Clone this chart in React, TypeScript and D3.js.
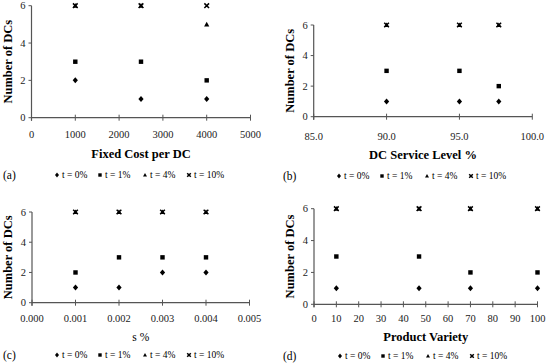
import React from 'react'
import * as d3 from 'd3';

const W = 546;
const H = 364;

// panel (a)
const fixedCost = [1000, 2500, 4000];
const fixedT0 = [2, 1, 1];
const fixedT1 = [3, 3, 2];
const fixedT4 = [6, 6, 5];
const fixedT10 = [6, 6, 6];

// panel (b)
const serviceLevel = [90, 95, 97.7];
const serviceT0 = [1, 1, 1];
const serviceT1 = [3, 3, 2];
const serviceT4 = [6, 6, 6];
const serviceT10 = [6, 6, 6];

// panel (c)
const sPct = [0.001, 0.002, 0.003, 0.004];
const sT0 = [1, 1, 2, 2];
const sT1 = [2, 3, 3, 3];
const sT4 = [6, 6, 6, 6];
const sT10 = [6, 6, 6, 6];

// panel (d)
const variety = [10, 47, 70, 100];
const varietyT0 = [1, 1, 1, 1];
const varietyT1 = [3, 3, 2, 2];
const varietyT4 = [6, 6, 6, 6];
const varietyT10 = [6, 6, 6, 6];

const seriesNames = ['t = 0%', 't = 1%', 't = 4%', 't = 10%'];
const yTicks = [0, 2, 4, 6];

const FONT = '"Liberation Serif", "Times New Roman", serif';

// marker glyphs, r is the half size
const Marker = ({ i, x, y, r = 2.6 }) => {
  if (i === 0) {
    return <path d={`M${x},${y - r - 0.4}L${x + r},${y}L${x},${y + r + 0.4}L${x - r},${y}Z`} fill="#000" />;
  }
  if (i === 1) {
    const s = r * 0.85;
    return <rect x={x - s} y={y - s} width={2 * s} height={2 * s} fill="#000" />;
  }
  if (i === 2) {
    return <path d={`M${x},${y - r}L${x + r},${y + r * 0.8}L${x - r},${y + r * 0.8}Z`} fill="#000" />;
  }
  const s = r * 0.9;
  return (
    <path d={`M${x - s},${y - s}L${x + s},${y + s}M${x - s},${y + s}L${x + s},${y - s}`}
      stroke="#000" strokeWidth={1.5} />
  );
};

const panels = [
  {
    letter: '(a)', title: 'Fixed Cost per DC', xs: fixedCost,
    series: [fixedT0, fixedT1, fixedT4, fixedT10],
    domain: [0, 5000], ticks: d3.range(0, 5001, 1000), fmt: d3.format('d'),
    x0: 31.5, x1: 250.5, yTop: 5.7, yBot: 117.7,
    tickY: 138, titleY: 158, legendY: 175, letterX: 3, legendX: 57,
  },
  {
    letter: '(b)', title: 'DC Service Level %', xs: serviceLevel,
    series: [serviceT0, serviceT1, serviceT4, serviceT10],
    domain: [85, 100], ticks: d3.range(85, 100.1, 5), fmt: d3.format('.1f'),
    x0: 313.7, x1: 532.3, yTop: 25, yBot: 116.7,
    tickY: 140, titleY: 159, legendY: 176, letterX: 283, legendX: 339,
  },
  {
    letter: '(c)', title: 's %', xs: sPct,
    series: [sT0, sT1, sT4, sT10],
    domain: [0, 0.005], ticks: d3.range(0, 0.00501, 0.001), fmt: d3.format('.3f'),
    x0: 32, x1: 249.5, yTop: 212, yBot: 302.7,
    tickY: 322, titleY: 341, legendY: 355, letterX: 3, legendX: 57,
    plainTitle: true,
  },
  {
    letter: '(d)', title: 'Product Variety', xs: variety,
    series: [varietyT0, varietyT1, varietyT4, varietyT10],
    domain: [0, 100], ticks: d3.range(0, 101, 10), fmt: d3.format('d'),
    x0: 314, x1: 537.5, yTop: 208.7, yBot: 304.3,
    tickY: 322, titleY: 341, legendY: 356, letterX: 283, legendX: 340,
  },
];

const legendOffsets = [0, 43, 88, 132];

const Panel = ({ p }) => {
  const x = d3.scaleLinear().domain(p.domain).range([p.x0, p.x1]);
  const y = d3.scaleLinear().domain([0, 6]).range([p.yBot, p.yTop]);
  const axisColor = '#555';
  return (
    <g style={{ fontFamily: FONT }}>
      {/* axes */}
      <line x1={p.x0} x2={p.x1} y1={p.yBot} y2={p.yBot} stroke={axisColor} strokeWidth={1.2} />
      <line x1={p.x0} x2={p.x0} y1={p.yTop} y2={p.yBot + 3} stroke={axisColor} strokeWidth={1.2} />
      {p.ticks.map(t => (
        <g key={t}>
          <line x1={x(t)} x2={x(t)} y1={p.yBot - 3} y2={p.yBot + 3} stroke={axisColor} />
          <text x={x(t)} y={p.tickY} textAnchor="middle" fontSize={10.5} fill="#222">{p.fmt(t)}</text>
        </g>
      ))}
      {yTicks.map(t => (
        <g key={t}>
          <line x1={p.x0 - 3} x2={p.x0} y1={y(t)} y2={y(t)} stroke={axisColor} />
          <text x={p.x0 - 6} y={y(t)} dy="0.35em" textAnchor="end" fontSize={10.5} fill="#222">{t}</text>
        </g>
      ))}
      <text transform={`translate(${p.x0 - 20},${(p.yTop + p.yBot) / 2}) rotate(-90)`}
        textAnchor="middle" fontSize={12.5} fontWeight="bold">Number of DCs</text>
      <text x={(p.x0 + p.x1) / 2} y={p.titleY} textAnchor="middle"
        fontSize={p.plainTitle ? 11.5 : 12.5} fontWeight={p.plainTitle ? 'normal' : 'bold'}>{p.title}</text>
      {/* points, t=4% before t=10% so the crosses sit on top */}
      {p.series.map((vals, i) => vals.map((v, j) => (
        <Marker key={`${i}-${j}`} i={i} x={x(p.xs[j])} y={y(v)} />
      )))}
      {/* legend */}
      <text x={p.letterX} y={p.legendY} fontSize={11.5} dy="0.35em">{p.letter}</text>
      {seriesNames.map((n, i) => (
        <g key={n}>
          <Marker i={i} x={p.legendX + legendOffsets[i]} y={p.legendY} r={2} />
          <text x={p.legendX + legendOffsets[i] + 5} y={p.legendY} dy="0.35em" fontSize={9.5}>{n}</text>
        </g>
      ))}
    </g>
  );
};

const App = () => {
  return (
    <svg width={W} height={H} style={{ position: 'absolute', left: 0, top: 0, background: '#fff' }}>
      {panels.map(p => <Panel key={p.letter} p={p} />)}
    </svg>
  );
}

export default App;
